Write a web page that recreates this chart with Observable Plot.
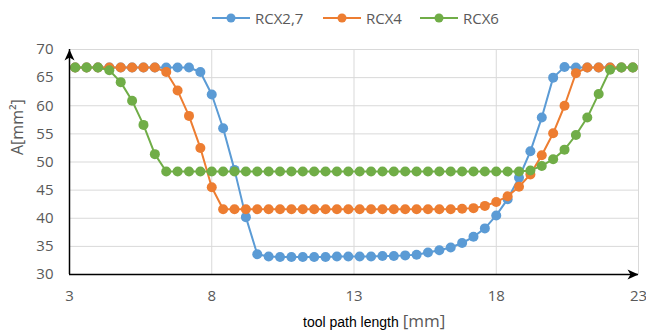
<!DOCTYPE html>
<html>
<head>
<meta charset="utf-8">
<script src="https://cdn.jsdelivr.net/npm/d3@7"></script>
<script src="https://cdn.jsdelivr.net/npm/@observablehq/plot@0.6"></script>
<style>
  body { margin: 0; background: #fff; font-family: "Open Sans", sans-serif; }
  #wrap { position: relative; width: 646px; height: 334px; overflow: hidden; }
  #legend { position: relative; height: 34px; }
  .item { position: absolute; top: 7px; height: 22px; display: flex; align-items: center; font-size: 15px; color: #595959; }
  .item svg { margin-right: 5px; }
  #xlabel { position: absolute; top: 307px; left: 303px; height: 28px; line-height: 28px; white-space: nowrap; }
  #xlabel .a { font-family: "Liberation Sans", Arial, sans-serif; font-size: 14px; color: #000; }
  #xlabel .b { font-family: "Open Sans", sans-serif; font-size: 17px; color: #595959; }
</style>
</head>
<body>
<div id="wrap">
  <div id="legend"></div>
  <div id="chart"></div>
  <div id="xlabel"><span class="a">tool path length </span><span class="b">[mm]</span></div>
</div>
<script>
const seriesNames = ["RCX2,7", "RCX4", "RCX6"];
const colors = ["#5B9BD5", "#ED7D31", "#70AD47"];
const xValues = [3.2,3.6,4.0,4.4,4.8,5.2,5.6,6.0,6.4,6.8,7.2,7.6,8.0,8.4,8.8,9.2,9.6,10.0,10.4,10.8,
  11.2,11.6,12.0,12.4,12.8,13.2,13.6,14.0,14.4,14.8,15.2,15.6,16.0,16.4,16.8,17.2,17.6,18.0,18.4,18.8,
  19.2,19.6,20.0,20.4,20.8,21.2,21.6,22.0,22.4,22.8];
const rcx27 = [66.8,66.8,66.8,66.8,66.8,66.8,66.8,66.8,66.8,66.8,66.8,66.0,62.0,56.0,48.6,40.2,33.6,
  33.2,33.1,33.1,33.1,33.1,33.1,33.2,33.2,33.2,33.2,33.3,33.3,
  33.4,33.5,33.9,34.3,34.8,35.6,36.7,38.2,40.5,43.4,47.2,51.9,57.9,65.0,66.9,
  66.8,66.8,66.8,66.8,66.8,66.8];
const rcx4 = [66.8,66.8,66.8,66.8,66.8,66.8,66.8,66.8,66.0,62.7,58.2,52.5,45.5,
  41.6,41.6,41.6,41.6,41.6,41.6,41.6,41.6,41.6,41.6,41.6,41.6,41.6,41.6,41.6,41.6,41.6,41.6,41.6,41.6,41.6,
  41.7,41.8,42.2,42.9,43.9,45.6,47.8,51.2,55.1,60.0,65.8,
  66.8,66.8,66.8,66.8,66.8];
const rcx6 = [66.8,66.8,66.8,66.3,64.2,60.9,56.6,51.4,
  48.3,48.3,48.3,48.3,48.3,48.3,48.3,48.3,48.3,48.3,48.3,48.3,48.3,48.3,48.3,48.3,
  48.3,48.3,48.3,48.3,48.3,48.3,48.3,48.3,48.3,48.3,48.3,48.3,48.3,48.3,48.3,48.3,
  48.5,49.3,50.5,52.2,54.8,57.9,62.1,66.4,66.8,66.8];
const xTicks = [3, 8, 13, 18, 23];
const yTicks = [30, 35, 40, 45, 50, 55, 60, 65, 70];
const yTitle = "A[mm²]";

const seriesValues = [rcx27, rcx4, rcx6];
const data = seriesNames.map((name, s) => xValues.map((x, i) => ({series: name, x, y: seriesValues[s][i]})));

// legend
const legendPos = [212, 323, 420];
const legend = document.getElementById("legend");
seriesNames.forEach((name, i) => {
  const it = document.createElement("div");
  it.className = "item";
  it.style.left = legendPos[i] + "px";
  it.innerHTML = `<svg width="38" height="12"><line x1="0" x2="38" y1="6" y2="6" stroke="${colors[i]}" stroke-width="2"/><circle cx="19" cy="6" r="4.5" fill="${colors[i]}"/></svg><span>${name}</span>`;
  legend.appendChild(it);
});

const arrowUp = {draw(ctx) { ctx.moveTo(0, 0); ctx.lineTo(5, 11); ctx.lineTo(0, 8); ctx.lineTo(-5, 11); ctx.closePath(); }};
const arrowRight = {draw(ctx) { ctx.moveTo(0, 0); ctx.lineTo(-11, -5); ctx.lineTo(-8, 0); ctx.lineTo(-11, 5); ctx.closePath(); }};

const xMin = xTicks[0], xMax = xTicks[xTicks.length - 1];
const yMin = yTicks[0], yMax = yTicks[yTicks.length - 1];

const marks = [
  Plot.gridY(yTicks.slice(1), {stroke: "#d9d9d9", strokeOpacity: 1, strokeWidth: 1}),
  Plot.gridX(xTicks.slice(1), {stroke: "#d9d9d9", strokeOpacity: 1, strokeWidth: 1}),
  Plot.axisX(xTicks, {tickSize: 0, tickPadding: 16, fontSize: 15, fill: "#595959", label: null, tickFormat: d => String(d)}),
  Plot.axisY(yTicks, {tickSize: 0, tickPadding: 16, fontSize: 15, fill: "#595959", label: null, tickFormat: d => String(d)}),
];
data.forEach((d, i) => {
  marks.push(Plot.line(d, {x: "x", y: "y", stroke: colors[i], strokeWidth: 2}));
  marks.push(Plot.dot(d, {x: "x", y: "y", r: 5, fill: colors[i], stroke: "none"}));
});
marks.push(
  Plot.ruleX([xMin], {y1: yMin, y2: yMax, stroke: "#000", strokeWidth: 1.5}),
  Plot.ruleY([yMin], {x1: xMin, x2: xMax, stroke: "#000", strokeWidth: 1.5}),
  Plot.dot([{x: xMin, y: yMax}], {x: "x", y: "y", symbol: arrowUp, fill: "#000", stroke: "none", r: 5}),
  Plot.dot([{x: xMax, y: yMin}], {x: "x", y: "y", symbol: arrowRight, fill: "#000", stroke: "none", r: 5}),
  Plot.text([yTitle], {text: d => d, frameAnchor: "left", rotate: -90, dx: -52, dy: -7, fontSize: 16, fill: "#595959"})
);

const chart = Plot.plot({
  width: 646,
  height: 272,
  marginLeft: 69,
  marginRight: 8,
  marginTop: 15,
  marginBottom: 32,
  style: {fontFamily: "Open Sans, sans-serif", background: "#fff", overflow: "visible"},
  x: {domain: [xMin, xMax]},
  y: {domain: [yMin, yMax]},
  marks
});
document.getElementById("chart").appendChild(chart);
</script>
</body>
</html>
